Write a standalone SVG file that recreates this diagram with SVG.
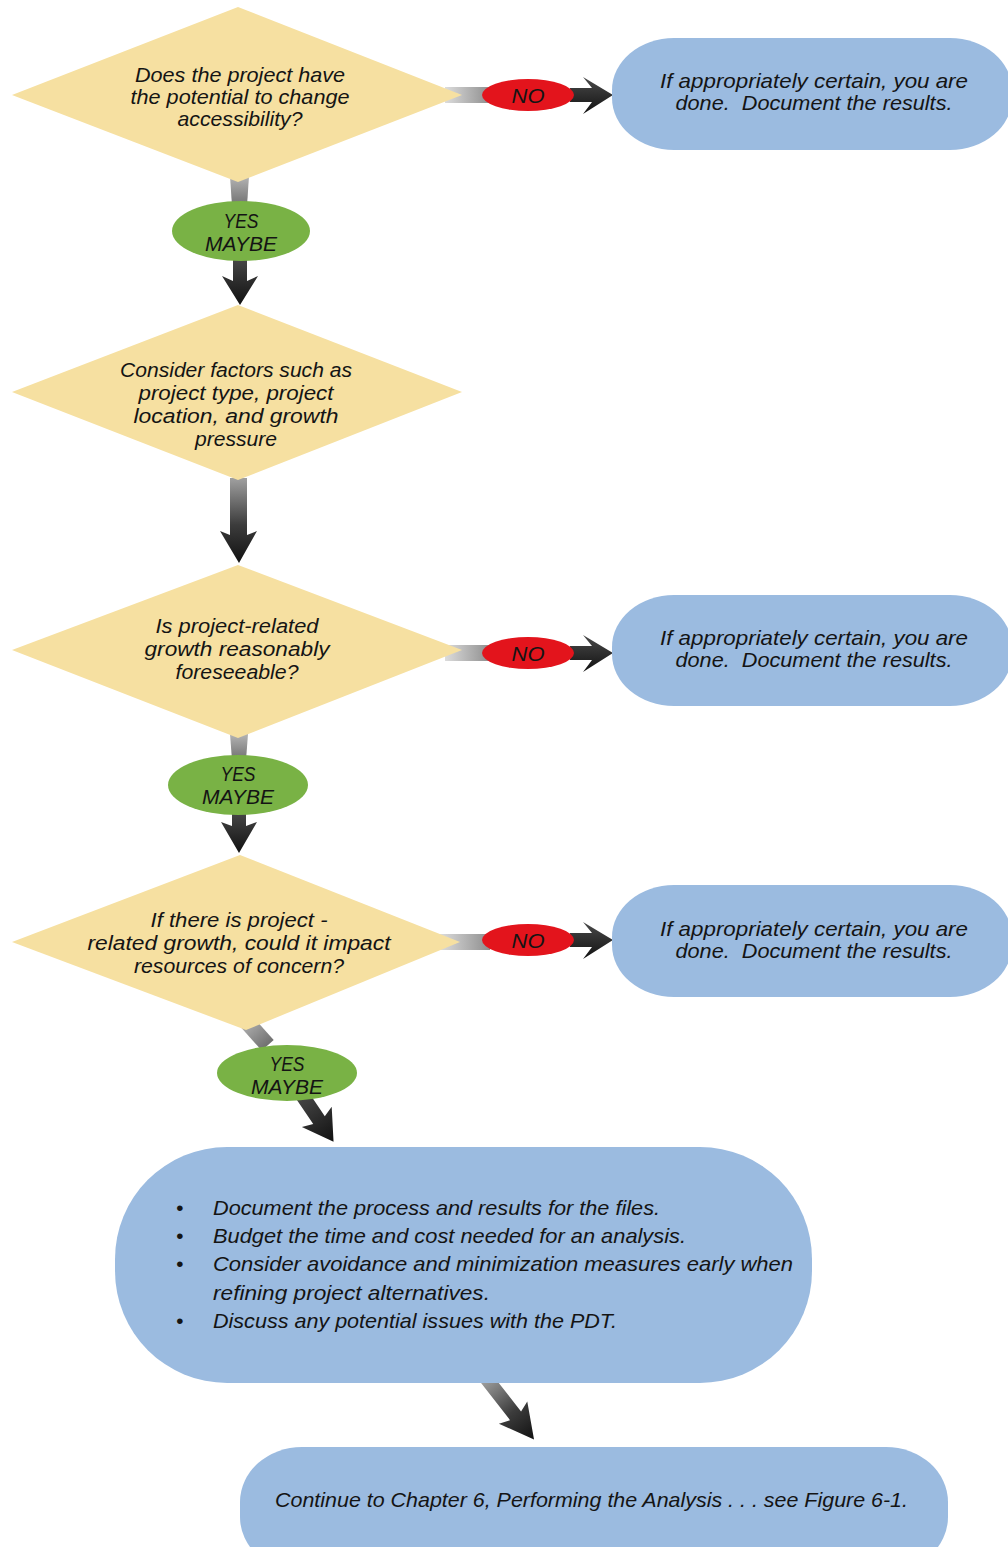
<svg xmlns="http://www.w3.org/2000/svg" width="1008" height="1547" viewBox="0 0 1008 1547">
<defs>
<style>
.dia{fill:#f6e0a1}
.pill{fill:#9bbbe0}
.yes{fill:#79b245}
.no{fill:#e3141c}
.t{font-family:"Liberation Sans",Arial,sans-serif;font-style:italic;font-size:21px;fill:#141414;text-anchor:middle}
.t2{font-family:"Liberation Sans",Arial,sans-serif;font-style:italic;font-size:20px;fill:#141414;text-anchor:middle}
.tl{font-family:"Liberation Sans",Arial,sans-serif;font-style:italic;font-size:21px;fill:#141414}
.lbl{font-family:"Liberation Sans",Arial,sans-serif;font-style:italic;font-size:20px;fill:#141414;text-anchor:middle}
.gH{fill:url(#gH)}
.gV{fill:url(#gV)}
.dark{fill:url(#gDark)}
.blk{fill:url(#gBlk)}
</style>
<linearGradient id="gH" x1="0" y1="0" x2="1" y2="0"><stop offset="0" stop-color="#dcdcdc"/><stop offset="1" stop-color="#8e8e8e"/></linearGradient>
<linearGradient id="gV" x1="0" y1="0" x2="0" y2="1"><stop offset="0" stop-color="#b4b4b4"/><stop offset="1" stop-color="#707070"/></linearGradient>
<linearGradient id="gDark" x1="0" y1="0" x2="0" y2="1"><stop offset="0" stop-color="#a0a0a0"/><stop offset="0.55" stop-color="#3c3c3c"/><stop offset="1" stop-color="#111"/></linearGradient>
<linearGradient id="gBlk" x1="0" y1="0" x2="0" y2="1"><stop offset="0" stop-color="#4a4a4a"/><stop offset="1" stop-color="#111"/></linearGradient>
</defs>

<g id="connectors">
  <!-- D1 -> NO -> box1 -->
  <rect class="gH" x="445" y="87" width="45" height="16"/>
  <polygon class="blk" points="570,88 592,88 583,77 613,95 583,114 592,102 570,102"/>
  <!-- D1 -> YES -> D2 -->
  <polygon class="gV" points="230,176 249,176 247,206 232,206"/>
  <polygon class="blk" points="233,256 247,256 247,281 258,276 240,305 222,276 233,281"/>
  <!-- D2 -> D3 -->
  <polygon class="dark" points="230,478 247,478 247,535 257,531 239,563 220,531 230,535"/>
  <!-- D3 -> NO -> box2 -->
  <rect class="gH" x="445" y="645" width="45" height="16"/>
  <polygon class="blk" points="570,646 592,646 583,635 613,653 583,672 592,660 570,660"/>
  <!-- D3 -> YES -> D4 -->
  <polygon class="gV" points="230,734 248,734 246,760 232,760"/>
  <polygon class="blk" points="232,810 246,810 246,826 257,822 239,853 221,822 232,826"/>
  <!-- D4 -> NO -> box3 -->
  <rect class="gH" x="440" y="934" width="50" height="16"/>
  <polygon class="blk" points="570,933 592,933 583,922 613,940 583,959 592,947 570,947"/>
  <!-- D4 -> YES -> big box -->
  <polygon class="gV" transform="translate(245,1020) rotate(-42)" points="-8,0 8,0 8,34 -8,34"/>
  <polygon class="blk" transform="translate(300,1092) rotate(-34)" points="-7,0 7,0 7,34 18,30 0,60 -18,30 -7,34"/>
  <!-- big box -> last box -->
  <polygon class="dark" transform="translate(486,1378) rotate(-38)" points="-7,0 7,0 7,48 18,44 0,78 -18,44 -7,48"/>
</g>

<g id="d1">
  <polygon class="dia" points="238,7 462,95 238,182 12,95"/>
  <text class="t" x="240" y="82" textLength="210" lengthAdjust="spacingAndGlyphs">Does the project have</text>
  <text class="t" x="240" y="104" textLength="219" lengthAdjust="spacingAndGlyphs">the potential to change</text>
  <text class="t" x="240" y="126" textLength="125" lengthAdjust="spacingAndGlyphs">accessibility?</text>
</g>

<g id="box1">
  <rect class="pill" x="612" y="38" width="400" height="112" rx="62" ry="52"/>
  <text class="t" x="814" y="88" textLength="308" lengthAdjust="spacingAndGlyphs">If appropriately certain, you are</text>
  <text class="t" x="814" y="110" textLength="277" lengthAdjust="spacingAndGlyphs" xml:space="preserve">done.  Document the results.</text>
</g>

<g id="d2">
  <polygon class="dia" points="238,305 462,392 238,480 12,392"/>
  <text class="t2" x="236" y="377" textLength="232" lengthAdjust="spacingAndGlyphs">Consider factors such as</text>
  <text class="t2" x="236" y="400" textLength="195" lengthAdjust="spacingAndGlyphs">project type, project</text>
  <text class="t2" x="236" y="423" textLength="205" lengthAdjust="spacingAndGlyphs">location, and growth</text>
  <text class="t2" x="236" y="446" textLength="82" lengthAdjust="spacingAndGlyphs">pressure</text>
</g>

<g id="d3">
  <polygon class="dia" points="238,565 462,650 238,738 12,650"/>
  <text class="t2" x="237" y="633" textLength="163" lengthAdjust="spacingAndGlyphs">Is project-related</text>
  <text class="t2" x="237" y="656" textLength="185" lengthAdjust="spacingAndGlyphs">growth reasonably</text>
  <text class="t2" x="237" y="679" textLength="123" lengthAdjust="spacingAndGlyphs">foreseeable?</text>
</g>

<g id="box2">
  <rect class="pill" x="612" y="595" width="400" height="111" rx="62" ry="52"/>
  <text class="t" x="814" y="645" textLength="308" lengthAdjust="spacingAndGlyphs">If appropriately certain, you are</text>
  <text class="t" x="814" y="667" textLength="277" lengthAdjust="spacingAndGlyphs" xml:space="preserve">done.  Document the results.</text>
</g>

<g id="d4">
  <polygon class="dia" points="240,855 460,942 246,1030 12,942"/>
  <text class="t2" x="239" y="927" textLength="177" lengthAdjust="spacingAndGlyphs">If there is project -</text>
  <text class="t2" x="239" y="950" textLength="303" lengthAdjust="spacingAndGlyphs">related growth, could it impact</text>
  <text class="t2" x="239" y="973" textLength="210" lengthAdjust="spacingAndGlyphs">resources of concern?</text>
</g>

<g id="box3">
  <rect class="pill" x="612" y="885" width="400" height="112" rx="62" ry="52"/>
  <text class="t" x="814" y="936" textLength="308" lengthAdjust="spacingAndGlyphs">If appropriately certain, you are</text>
  <text class="t" x="814" y="958" textLength="277" lengthAdjust="spacingAndGlyphs" xml:space="preserve">done.  Document the results.</text>
</g>

<g id="box4">
  <rect class="pill" x="115" y="1147" width="697" height="236" rx="112" ry="112"/>
  <text class="tl" x="176" y="1215">•</text>
  <text class="tl" x="213" y="1215" textLength="447" lengthAdjust="spacingAndGlyphs">Document the process and results for the files.</text>
  <text class="tl" x="176" y="1243">•</text>
  <text class="tl" x="213" y="1243" textLength="473" lengthAdjust="spacingAndGlyphs">Budget the time and cost needed for an analysis.</text>
  <text class="tl" x="176" y="1271">•</text>
  <text class="tl" x="213" y="1271" textLength="580" lengthAdjust="spacingAndGlyphs">Consider avoidance and minimization measures early when</text>
  <text class="tl" x="213" y="1300" textLength="277" lengthAdjust="spacingAndGlyphs">refining project alternatives.</text>
  <text class="tl" x="176" y="1328">•</text>
  <text class="tl" x="213" y="1328" textLength="404" lengthAdjust="spacingAndGlyphs">Discuss any potential issues with the PDT.</text>
</g>

<g id="box5">
  <rect class="pill" x="240" y="1447" width="708" height="125" rx="62" ry="55"/>
  <text class="tl" x="275" y="1507" textLength="633" lengthAdjust="spacingAndGlyphs">Continue to Chapter 6, Performing the Analysis . . . see Figure 6-1.</text>
</g>

<g id="labels">
  <g id="no1"><ellipse class="no" cx="528" cy="95" rx="46" ry="16"/><text class="lbl" x="528" y="103" textLength="33" lengthAdjust="spacingAndGlyphs">NO</text></g>
  <g id="no2"><ellipse class="no" cx="528" cy="653" rx="46" ry="16"/><text class="lbl" x="528" y="661" textLength="33" lengthAdjust="spacingAndGlyphs">NO</text></g>
  <g id="no3"><ellipse class="no" cx="528" cy="940" rx="46" ry="16"/><text class="lbl" x="528" y="948" textLength="33" lengthAdjust="spacingAndGlyphs">NO</text></g>
  <g id="yes1"><ellipse class="yes" cx="241" cy="231" rx="69" ry="30"/><text class="lbl" x="241" y="228" textLength="35" lengthAdjust="spacingAndGlyphs">YES</text><text class="lbl" x="241" y="251" textLength="72" lengthAdjust="spacingAndGlyphs">MAYBE</text></g>
  <g id="yes2"><ellipse class="yes" cx="238" cy="785" rx="70" ry="30"/><text class="lbl" x="238" y="781" textLength="35" lengthAdjust="spacingAndGlyphs">YES</text><text class="lbl" x="238" y="804" textLength="72" lengthAdjust="spacingAndGlyphs">MAYBE</text></g>
  <g id="yes3"><ellipse class="yes" cx="287" cy="1073" rx="70" ry="28"/><text class="lbl" x="287" y="1071" textLength="35" lengthAdjust="spacingAndGlyphs">YES</text><text class="lbl" x="287" y="1094" textLength="72" lengthAdjust="spacingAndGlyphs">MAYBE</text></g>
</g>
</svg>
